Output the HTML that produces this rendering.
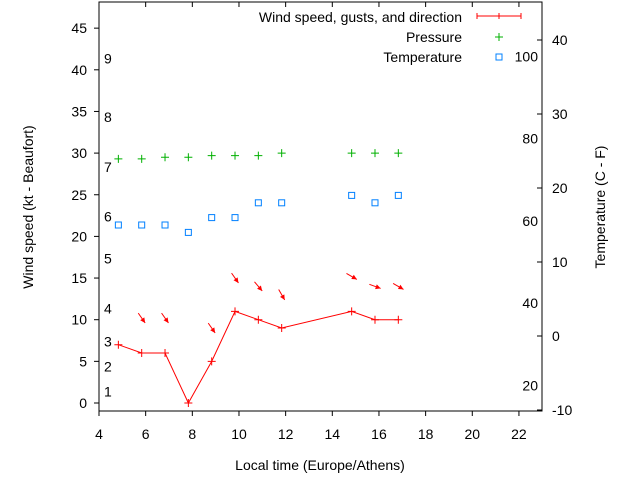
<!DOCTYPE html>
<html><head><meta charset="utf-8"><style>
body{margin:0;background:#fff}
svg{display:block;font-family:"Liberation Sans",sans-serif;font-size:14px}
</style></head><body>
<svg id="c" width="640" height="480">
</svg>
<script>
const hours=[4.83,5.83,6.83,7.83,8.83,9.83,10.83,11.83,14.83,15.83,16.83];
const wind=[7,6,6,0,5,11,10,9,11,10,10];
const gustHours=[5.83,6.83,8.83,9.83,10.83,11.83,14.83,15.83,16.83];
const gust=[10.2,10.2,9,15,14,13,15.2,14,14];
const gustDir=[35,35,35,35,40,30,60,70,60];
const pressure=[29.3,29.3,29.5,29.5,29.7,29.7,29.7,30,30,30,30];
const tempC=[15,15,15,14,16,16,18,18,19,18,19];
const xTicks=[4,6,8,10,12,14,16,18,20,22];
const yTicks=[0,5,10,15,20,25,30,35,40,45];
const y2Ticks=[-10,0,10,20,30,40];
const fTicks=[20,40,60,80,100];
const beaufort=[1,2,3,4,5,6,7,8,9];
const beaufortKt=[1,4,7,11,17,22,28,34,41];

const L=99,R=542,T=2,B=411;
const X=h=>L+(h-4)*23.33;
const Y=k=>403-k*8.33;
const Y2=c=>336-c*7.4;
const svg=document.getElementById('c');
const NS='http://www.w3.org/2000/svg';
function mk(tag,attrs,name,txt){const e=document.createElementNS(NS,tag);for(const k in attrs)e.setAttribute(k,attrs[k]);


if(txt!==undefined)e.textContent=txt;svg.appendChild(e);return e;}

mk('rect',{x:L,y:T,width:R-L,height:B-T,fill:'none',stroke:'#000','stroke-width':1},'plot-border');
xTicks.forEach(t=>{const x=X(t);
 mk('line',{x1:x,y1:B,x2:x,y2:B+5,stroke:'#000'},'x-tick');
 mk('line',{x1:x,y1:T,x2:x,y2:T+5,stroke:'#000'},'x-tick-top');
 mk('text',{x:x,y:439,'text-anchor':'middle'},'x-tick-label',t);});
yTicks.forEach(t=>{const y=Y(t);
 mk('line',{x1:L-5,y1:y,x2:L,y2:y,stroke:'#000'},'y-tick');
 mk('text',{x:L-12,y:y+5,'text-anchor':'end'},'y-tick-label',t);});
y2Ticks.forEach(t=>{const y=Y2(t);
 mk('line',{x1:R-5,y1:y,x2:R,y2:y,stroke:'#000'},'y2-tick');
 mk('text',{x:552,y:y+5,'text-anchor':'start'},'y2-tick-label',t);});
fTicks.forEach(t=>{const y=Y2((t-32)*5/9);
 mk('text',{x:538,y:y+5,'text-anchor':'end'},'fahrenheit-label',t);});
beaufort.forEach((b,i)=>{mk('text',{x:104,y:Y(beaufortKt[i])+2},'beaufort-label',b);});

mk('text',{x:320,y:470,'text-anchor':'middle'},'x-axis-title','Local time (Europe/Athens)');
mk('text',{x:0,y:0,'text-anchor':'middle',transform:'translate(33,207) rotate(-90)'},'y-axis-title','Wind speed (kt - Beaufort)');
mk('text',{x:0,y:0,'text-anchor':'middle',transform:'translate(605,207) rotate(-90)'},'y2-axis-title','Temperature (C - F)');

mk('polyline',{points:hours.map((h,i)=>X(h)+','+Y(wind[i])).join(' '),fill:'none',stroke:'#f00','stroke-width':1},'wind-line');
hours.forEach((h,i)=>{const x=X(h),y=Y(wind[i]);
 mk('path',{d:`M${x-4},${y}h8M${x},${y-4}v8`,stroke:'#f00'},'wind-point');});
gustHours.forEach((h,i)=>{const cx=X(h),cy=Y(gust[i]);const a=gustDir[i]*Math.PI/180;
 const dx=Math.sin(a)*6,dy=Math.cos(a)*6;
 const hx=cx+dx,hy=cy+dy;
 mk('line',{x1:cx-dx,y1:cy-dy,x2:hx,y2:hy,stroke:'#f00'},'gust-arrow');
 const ux=dx/6,uy=dy/6;const bx=hx-ux*5,by=hy-uy*5;
 mk('polygon',{points:`${hx},${hy} ${bx-uy*2.5},${by+ux*2.5} ${bx+uy*2.5},${by-ux*2.5}`,fill:'#f00'},'gust-arrow-head');});
hours.forEach((h,i)=>{const x=X(h),y=Y(pressure[i]);
 mk('path',{d:`M${x-4},${y}h8M${x},${y-4}v8`,stroke:'#00b000'},'pressure-point');});
hours.forEach((h,i)=>{const x=X(h),y=Y2(tempC[i]);
 mk('rect',{x:x-3,y:y-3,width:6,height:6,fill:'none',stroke:'#0080ff'},'temperature-point');});
mk('text',{x:462,y:22,'text-anchor':'end'},'legend-wind-label','Wind speed, gusts, and direction');
mk('path',{d:'M477,16h44M477,13v6M521,13v6M499,13v6',stroke:'#f00'},'legend-wind-symbol');
mk('text',{x:462,y:42,'text-anchor':'end'},'legend-pressure-label','Pressure');
mk('path',{d:'M495,37h8M499,33v8',stroke:'#00b000'},'legend-pressure-symbol');
mk('text',{x:462,y:62,'text-anchor':'end'},'legend-temperature-label','Temperature');
mk('rect',{x:496,y:54,width:6,height:6,fill:'none',stroke:'#0080ff'},'legend-temperature-symbol');
</script>
</body></html>
